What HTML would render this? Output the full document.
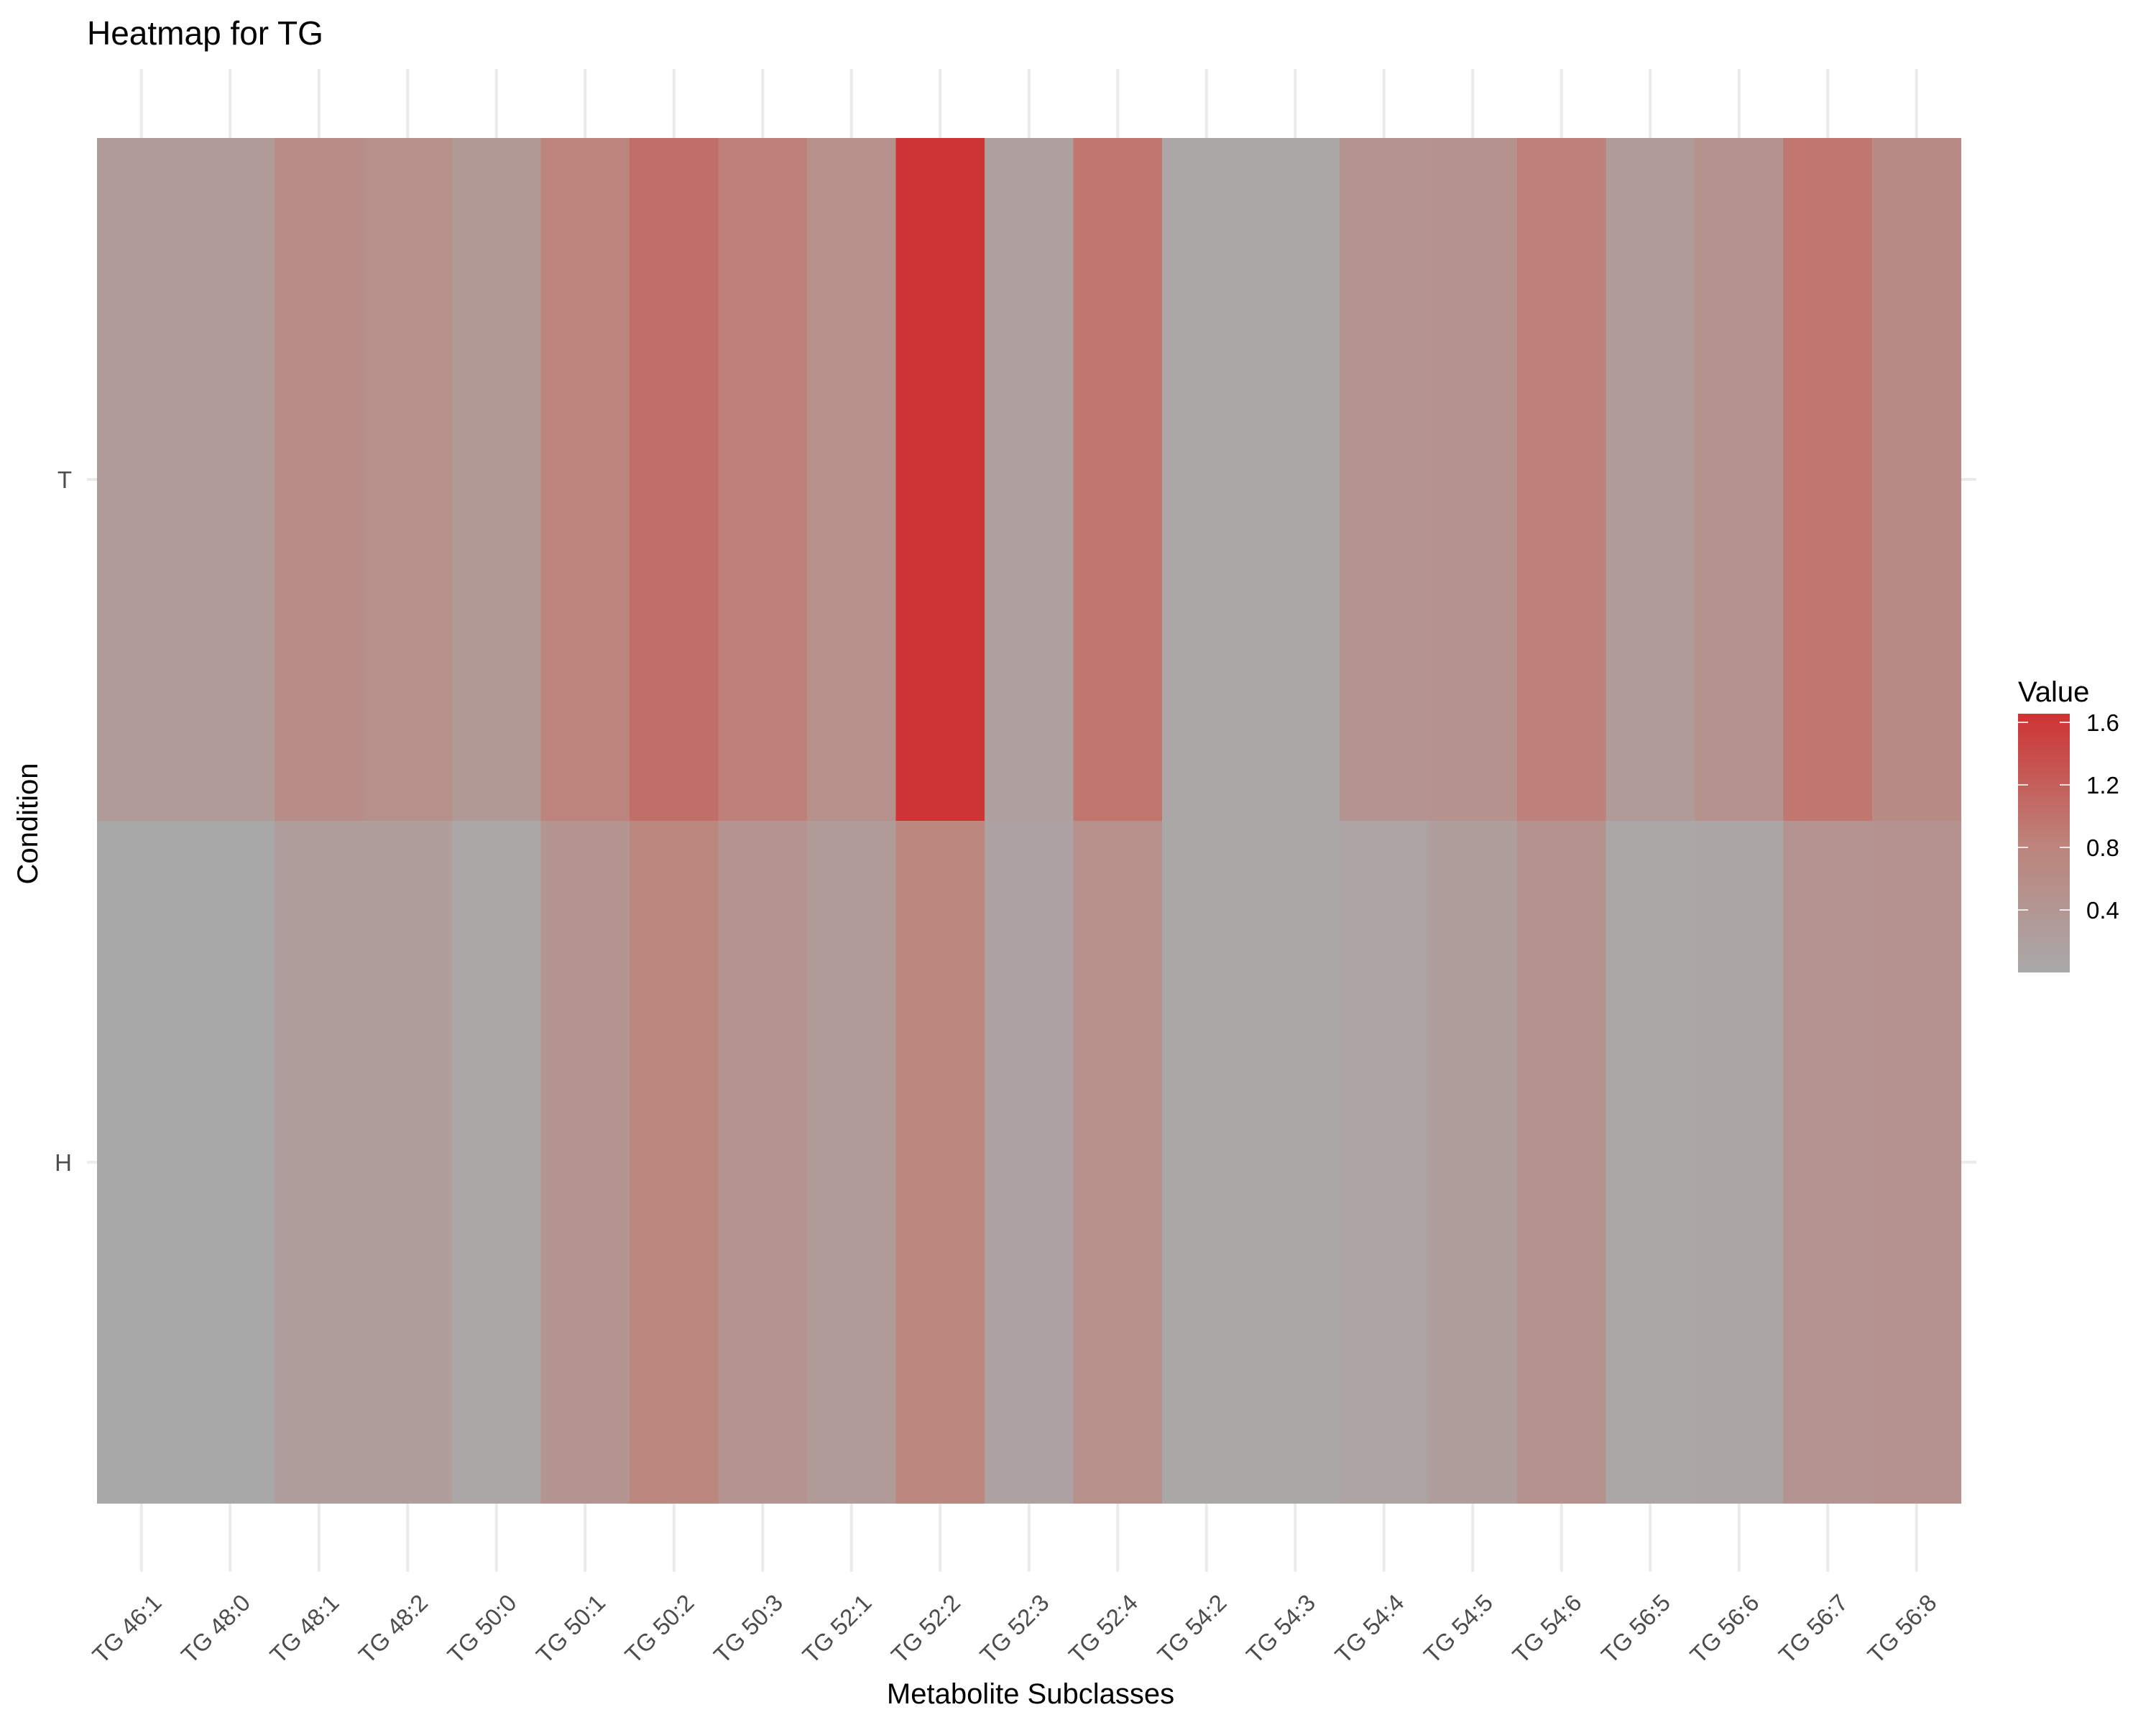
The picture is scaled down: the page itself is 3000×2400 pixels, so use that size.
<!DOCTYPE html>
<html><head><meta charset="utf-8"><style>
html,body{margin:0;padding:0;background:#fff}
svg{display:block;font-family:"Liberation Sans",Arial,sans-serif}
</style></head><body>
<svg id="chart" width="3000" height="2400" viewBox="0 0 3000 2400" xmlns="http://www.w3.org/2000/svg">
<defs><linearGradient id="cb" x1="0" y1="1" x2="0" y2="0">
<stop offset="0" stop-color="#a9a9a9"/><stop offset="0.5" stop-color="#bd837b"/><stop offset="1" stop-color="#cd3333"/></linearGradient></defs>
<rect x="0" y="0" width="3000" height="2400" fill="#fff"/>
<g id="grid"></g>
<g id="tiles"></g>
<g id="xlabels"></g>
<g id="ylabels"></g>
<text x="121" y="62" font-size="46" fill="#000">Heatmap for TG</text>
<text x="1434" y="2370" font-size="40" text-anchor="middle" fill="#000">Metabolite Subclasses</text>
<text x="0" y="0" font-size="40" text-anchor="middle" fill="#000" transform="translate(52,1146) rotate(-90)">Condition</text>
<g id="legend">
<text x="2808" y="976" font-size="40" fill="#000">Value</text>
<rect x="2808" y="993" width="72" height="360" fill="url(#cb)"/>
<g id="legticks"></g>
</g>
</svg>
<script>
const categories=["TG 46:1","TG 48:0","TG 48:1","TG 48:2","TG 50:0","TG 50:1","TG 50:2","TG 50:3","TG 52:1","TG 52:2","TG 52:3","TG 52:4","TG 54:2","TG 54:3","TG 54:4","TG 54:5","TG 54:6","TG 56:5","TG 56:6","TG 56:7","TG 56:8"];
const conditions=["T","H"];
const valuesT=[0.3,0.3,0.6,0.55,0.35,0.8,1.05,0.85,0.55,1.64,0.2,0.95,0.05,0.05,0.45,0.5,0.85,0.3,0.5,0.95,0.65];
const valuesH=[0.02,0.02,0.25,0.25,0.05,0.45,0.75,0.45,0.3,0.75,0.15,0.55,0.03,0.03,0.1,0.25,0.5,0.05,0.08,0.45,0.5];
const legendTicks=[0.4,0.8,1.2,1.6];
const NS="http://www.w3.org/2000/svg";
const X0=135,CW=123.5,Y0=192,RH=950,VMIN=0,VMAX=1.655;
const xPos=i=>X0+i*CW;
const yPos=j=>Y0+j*RH;
const lerp=(a,b,t)=>a+(b-a)*t;
function color(v){let t=Math.max(0,Math.min(1,(v-VMIN)/(VMAX-VMIN)));
 const s=[[169,169,169],[189,131,123],[205,51,51]];let a,b,u;
 if(t<0.5){a=s[0];b=s[1];u=t/0.5}else{a=s[1];b=s[2];u=(t-0.5)/0.5}
 return `rgb(${Math.round(lerp(a[0],b[0],u))},${Math.round(lerp(a[1],b[1],u))},${Math.round(lerp(a[2],b[2],u))})`;}
function mk(tag,attrs,parent){const e=document.createElementNS(NS,tag);for(const k in attrs)e.setAttribute(k,attrs[k]);parent.appendChild(e);return e;}
const grid=document.getElementById('grid'),tiles=document.getElementById('tiles'),xl=document.getElementById('xlabels'),yl=document.getElementById('ylabels'),lt=document.getElementById('legticks');
categories.forEach((c,i)=>{const cx=xPos(i)+CW/2;
 const g=mk('line',{x1:cx,x2:cx,y1:96,y2:2187,stroke:'#ebebeb','stroke-width':4},grid);
 
 
 const t=mk('text',{x:0,y:0,'font-size':33,fill:'#4d4d4d','text-anchor':'end',transform:`translate(${cx+30},${2232}) rotate(-45)`},xl);
 t.textContent=c;
 
 
});
conditions.forEach((c,j)=>{const cy=yPos(j)+RH/2;
 const g=mk('line',{x1:121,x2:2750,y1:cy,y2:cy,stroke:'#ebebeb','stroke-width':4},grid);
 
 
 const t=mk('text',{x:100,y:cy+12,'font-size':33,fill:'#4d4d4d','text-anchor':'end'},yl);
 t.textContent=c;
 
 
});
[valuesT,valuesH].forEach((arr,j)=>{arr.forEach((v,i)=>{
 const r=mk('rect',{x:xPos(i),y:yPos(j),width:CW+0.6,height:RH,fill:color(v)},tiles);
 
 
});});
const legY=v=>1353-(v-VMIN)/(VMAX-VMIN)*360;
legendTicks.forEach(v=>{const y=legY(v);
 mk('line',{x1:2808,x2:2822,y1:y,y2:y,stroke:'#fff','stroke-width':2,opacity:0.8},lt);
 mk('line',{x1:2866,x2:2880,y1:y,y2:y,stroke:'#fff','stroke-width':2,opacity:0.8},lt);
 const t=mk('text',{x:2903,y:y+12,'font-size':33,fill:'#000'},lt);
 t.textContent=v.toFixed(1);
 
 
});
</script>
</body></html>
